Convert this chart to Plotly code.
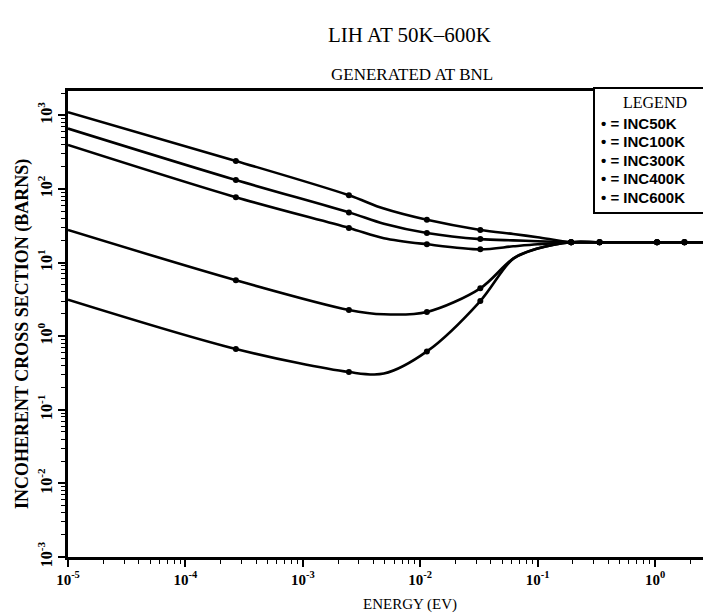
import plotly.graph_objects as go

# ---------------- data ----------------
energy = [1e-5, 2.69e-4, 2.47e-3, 4.9e-3, 0.0114, 0.0325, 0.062, 0.1, 0.193, 0.337, 1.04, 1.78, 3.2]
marked_energy = [2.69e-4, 2.47e-3, 0.0114, 0.0325, 0.193, 0.337, 1.04, 1.78, 3.2]

inc50k = [3.13, 0.67, 0.325, 0.31, 0.62, 3.0, 11.3, 15.5, 18.9, 18.9, 18.9, 18.9, 18.9]
inc100k = [27.7, 5.75, 2.27, 1.98, 2.13, 4.46, 11.3, 15.5, 18.9, 18.9, 18.9, 18.9, 18.9]
inc300k = [395, 77, 29.5, 21.4, 17.7, 15.1, 16.6, 17.7, 18.9, 18.9, 18.9, 18.9, 18.9]
inc400k = [660, 132, 48, 33.6, 25.2, 20.8, 20.0, 19.5, 18.9, 18.9, 18.9, 18.9, 18.9]
inc600k = [1100, 240, 82, 54, 38, 27.7, 24.4, 22.1, 18.9, 18.9, 18.9, 18.9, 18.9]

series_names = ["INC50K", "INC100K", "INC300K", "INC400K", "INC600K"]
series_values = [inc50k, inc100k, inc300k, inc400k, inc600k]

x_tick_values = [1e-5, 1e-4, 1e-3, 1e-2, 1e-1, 1e0]
x_tick_labels = ["<b>10<sup>-5</sup></b>", "<b>10<sup>-4</sup></b>", "<b>10<sup>-3</sup></b>",
                 "<b>10<sup>-2</sup></b>", "<b>10<sup>-1</sup></b>", "<b>10<sup>0</sup></b>"]
y_tick_values = [1e-3, 1e-2, 1e-1, 1e0, 1e1, 1e2, 1e3]
y_tick_labels = ["<b>10<sup>-3</sup></b>", "<b>10<sup>-2</sup></b>", "<b>10<sup>-1</sup></b>",
                 "<b>10<sup>0</sup></b>", "<b>10<sup>1</sup></b>", "<b>10<sup>2</sup></b>",
                 "<b>10<sup>3</sup></b>"]

title_text = "LIH AT 50K\u2013600K"
subtitle_text = "GENERATED AT BNL"
x_title = "ENERGY (EV)"
y_title = "INCOHERENT CROSS SECTION (BARNS)"

# ---------------- figure ----------------
SERIF = "Liberation Serif, DejaVu Serif, serif"
SANS = "Liberation Sans Narrow, Liberation Sans, sans-serif"
L, R, T, B = 60, 0, 83, 66
W, H = 711, 615
PW, PH = W - L - R, H - T - B


def px(xpix):
    return (xpix - L) / PW


def py(ypix):
    return (H - B - ypix) / PH


fig = go.Figure()

for name, vals in zip(series_names, series_values):
    fig.add_trace(go.Scatter(
        x=energy, y=vals, mode="lines", name=name,
        line=dict(color="black", width=2.6, shape="spline", smoothing=0.9),
        showlegend=False, hoverinfo="skip"))
    mx = [e for e in energy if e in marked_energy]
    my = [v for e, v in zip(energy, vals) if e in marked_energy]
    fig.add_trace(go.Scatter(
        x=mx, y=my, mode="markers", name=name,
        marker=dict(color="black", size=6, symbol="circle"),
        showlegend=False))


def minor_vals(lo, hi):
    out = []
    for p in range(lo, hi + 1):
        for k in range(2, 10):
            out.append(k * 10.0 ** p)
    return out


fig.update_xaxes(
    type="log", range=[-5, 0.545],
    tickmode="array", tickvals=x_tick_values, ticktext=x_tick_labels,
    ticks="outside", ticklen=7, tickwidth=1.5, tickcolor="black",
    showline=True, linecolor="black", linewidth=2.5, mirror=True,
    showgrid=False, zeroline=False,
    tickfont=dict(family=SERIF, size=15, color="black"),
    minor=dict(tickmode="array", tickvals=minor_vals(-5, 0), ticks="outside",
               ticklen=4, tickwidth=1.2, tickcolor="black", showgrid=False),
)
fig.update_yaxes(
    type="log", range=[-3, 3.33],
    tickmode="array", tickvals=y_tick_values, ticktext=y_tick_labels,
    ticks="outside", ticklen=7, tickwidth=1.5, tickcolor="black",
    showline=True, linecolor="black", linewidth=2.5, mirror=False,
    showgrid=False, zeroline=False, tickangle=-90,
    tickfont=dict(family=SERIF, size=16, color="black"),
    minor=dict(tickmode="array", tickvals=minor_vals(-3, 3), ticks="outside",
               ticklen=4, tickwidth=1.2, tickcolor="black", showgrid=False),
)

annotations = [
    dict(text=title_text, x=px(402), y=py(27), xref="paper", yref="paper",
         showarrow=False, xanchor="center", yanchor="middle",
         font=dict(family=SERIF, size=21, color="black")),
    dict(text=subtitle_text, x=px(404), y=py(67), xref="paper", yref="paper",
         showarrow=False, xanchor="center", yanchor="middle",
         font=dict(family=SERIF, size=17, color="black")),
    dict(text=x_title, x=px(402), y=py(596), xref="paper", yref="paper",
         showarrow=False, xanchor="center", yanchor="middle",
         font=dict(family=SERIF, size=15, color="black")),
    dict(text="<b>" + y_title + "</b>", x=px(14), y=py(326), xref="paper", yref="paper",
         showarrow=False, xanchor="center", yanchor="middle", textangle=-90,
         font=dict(family=SERIF, size=18, color="black")),
]

# legend box (drawn as text in a frame)
bx0, bx1, by0, by1 = 586, 707, 80, 205
fig.add_shape(type="rect", xref="paper", yref="paper",
              x0=px(bx0), x1=px(bx1), y0=py(by1), y1=py(by0),
              line=dict(color="black", width=2), fillcolor="white", layer="above")
annotations.append(dict(text="LEGEND", x=px((bx0 + bx1) / 2), y=py(by0 + 14),
                        xref="paper", yref="paper", showarrow=False,
                        xanchor="center", yanchor="middle",
                        font=dict(family=SERIF, size=16, color="black")))
row0, row_h = by0 + 35, 18.5
for i, name in enumerate(series_names):
    annotations.append(dict(text="<b>\u2022 = " + name + "</b>", x=px(bx0 + 5),
                            y=py(row0 + row_h * i), xref="paper", yref="paper",
                            showarrow=False, xanchor="left", yanchor="middle",
                            font=dict(family=SANS, size=15, color="black")))

fig.update_layout(
    width=W, height=H,
    margin=dict(l=L, r=R, t=T, b=B),
    paper_bgcolor="white", plot_bgcolor="white",
    annotations=annotations,
    showlegend=False,
)

fig.write_html("out.html")
